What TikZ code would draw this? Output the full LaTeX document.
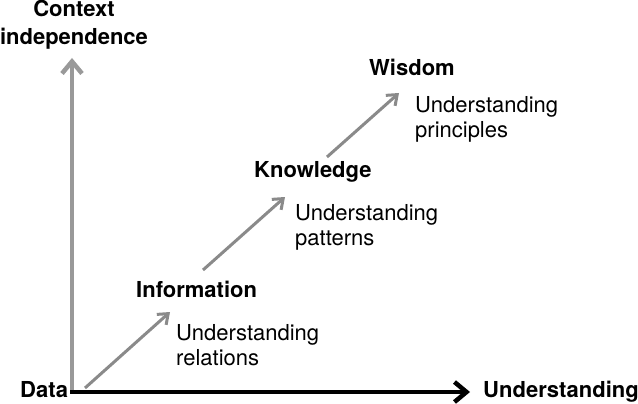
\documentclass[tikz,border=0pt]{standalone}
\usepackage{fontspec}
\setmainfont{TeX Gyre Heros}
\usetikzlibrary{arrows.meta}
\definecolor{axisgray}{HTML}{999999}
\definecolor{stepgray}{HTML}{8A8A8A}
\begin{document}
\begin{tikzpicture}[x=1pt,y=-1pt,
  title/.style={inner sep=0pt,font=\bfseries\fontsize{22}{28}\selectfont},
  desc/.style={inner sep=0pt,align=left,font=\fontsize{22}{25}\selectfont},
  axis/.style={line width=4.5pt,-{Straight Barb[length=12pt,width=20pt,line join=miter]}},
  stepline/.style={stepgray,line width=3pt,-{Straight Barb[length=9pt,width=14pt]}}]
\useasboundingbox (0,0) rectangle (638,404);
% axes
\coordinate (origin) at (72,392);
\coordinate (ytop) at (72,58);
\coordinate (xend) at (470,392);
\coordinate (xstart) at (70,392);
\draw[axis,axisgray] (origin) -- (ytop);
\draw[axis,black] (xstart) -- (xend);
% labels
\node[title,align=center,anchor=base] (ctx) at (74,45) {Context\\independence};
\node[title,anchor=base west] (data) at (20,397) {Data};
\node[title,anchor=base west] (und) at (483,397) {Understanding};
\node[title,anchor=base west] (info) at (136,297) {Information};
\node[title,anchor=base west] (know) at (254,177) {Knowledge};
\node[title,anchor=base west] (wis) at (369,76) {Wisdom};
\node[desc,anchor=base west] (rel) at (176,365) {Understanding\\relations};
\node[desc,anchor=base west] (pat) at (295,245) {Understanding\\patterns};
\node[desc,anchor=base west] (pri) at (415,138) {Understanding\\principles};
% steps
\coordinate (s1a) at (85,388);
\coordinate (s1b) at (170,312);
\coordinate (s2a) at (203,270);
\coordinate (s2b) at (285,197);
\coordinate (s3a) at (327,157);
\coordinate (s3b) at (399,93);
\draw[stepline] (s1a) -- (s1b);
\draw[stepline] (s2a) -- (s2b);
\draw[stepline] (s3a) -- (s3b);
\end{tikzpicture}
\end{document}
